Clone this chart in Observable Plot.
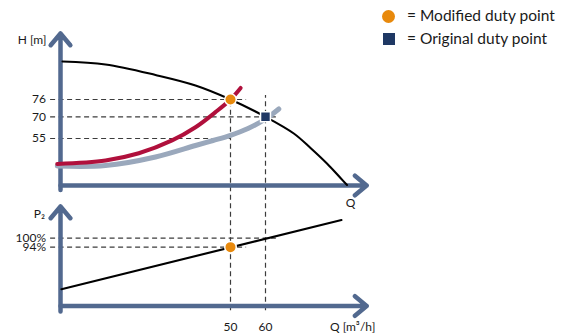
<!DOCTYPE html>
<html><head><meta charset="utf-8">
<script src="https://cdn.jsdelivr.net/npm/d3@7"></script>
<script src="https://cdn.jsdelivr.net/npm/@observablehq/plot@0.6"></script>
<style>
html,body{margin:0;padding:0;background:#fff;}
#chart{position:relative;width:566px;height:333px;font-family:Lato,"Open Sans",sans-serif;overflow:hidden;}
#chart svg{position:absolute;left:0;top:0;background:transparent !important;}
.lg-mark{position:absolute;}
.lg-text{position:absolute;left:407px;font-size:15.5px;line-height:18px;color:#1a1a1a;white-space:nowrap;}
</style></head>
<body><div id="chart"></div>
<script>
// ---------- data ----------
// Top panel: head H [m] against flow Q [m³/h]
const pumpQ = [2.0, 14.29, 28.57, 40, 50, 60, 68.09, 72.86, 77.63, 81.43, 83.29];
const pumpH = [89.18, 88.14, 84.50, 80.86, 76, 70, 58.46, 51.97, 46.93, 42.39, 40.16];
const modSysQ = [0.5, 14.3, 23.8, 33.3, 40, 45.7, 50, 52.9];
const modSysH = [46.9, 48.0, 50.3, 54.4, 62.8, 71.6, 76, 80.0];
const origSysQ = [0.5, 14.29, 28.57, 40, 45, 50, 55, 60, 63.8];
const origSysH = [46.22, 46.38, 49.10, 52.77, 54.36, 57.21, 61.91, 68.48, 72.71];
const hTicks = [76, 70, 55];
const hGuideEnds = [54.6, 63.1, 50];
// Bottom panel: power P2 [%] against flow Q
const powerQ = [1.7, 81.7];
const powerP = [65.8, 112.2];
const pTicks = [100, 94];
const pGuideEnds = [63.1, 54.6];
// Flow ticks and the H at which their dashed guides start
const qTicks = [50, 60];
const qGuideTops = [76, 77.4];
// Duty points
const modifiedPoint = {q: 50, h: 76, p: 94};
const originalPoint = {q: 60, h: 70, p: 100};
// Schematic axis extents
const qAxis = 1.43, qAxisEnd = 88.9, qGuideStart = -1.4;
const hAxis = 40, hAxisBottom = 38.56, hAxisTop = 98.9;
const pAxis = 54.5, pAxisBottom = 50.8, pAxisTop = 121.3;

// The H axis of the reference is schematic (not proportional): map H onto a
// display height before Plot's linear y scale.
const hDisplay = d3.scaleLinear().domain([40, 55, 70, 76, 100]).range([0, 47, 68.7, 86, 155.2]);

// ---------- styles ----------
const C = {axis: "#52698f", orange: "#e8890c", navy: "#1f3864", red: "#b0103c",
           gray: "#9aa8bc", guide: "#3c3c3c", ink: "#1a1a1a"};
const FONT = "Lato, 'Open Sans', sans-serif";
const dash = {stroke: C.guide, strokeWidth: 1.2, strokeDasharray: "5,3.5"};
const axisStyle = {stroke: C.axis, strokeWidth: 4.5, strokeLinecap: "round", strokeLinejoin: "round", headAngle: 80, headLength: 5.1};
const txt = {fontFamily: FONT, fontSize: 12, fill: C.ink};

const rows = (qs, vs, k) => qs.map((q, i) => ({q, [k]: vs[i]}));
const one = [0];

const xScale = {domain: [0, 100], range: [55, 405], axis: null};
const base = {width: 566, height: 333, marginTop: 0, marginRight: 0, marginBottom: 20, marginLeft: 0,
              style: {background: "transparent", fontFamily: FONT, overflow: "visible"}};

// ---------- top panel ----------
const topPlot = Plot.plot({
  ...base,
  x: xScale,
  y: {transform: hDisplay, domain: [0, 155.2], range: [185, 29.8], axis: null},
  marks: [
    Plot.ruleY(hTicks.map((h, i) => ({h, qEnd: hGuideEnds[i]})), {y: "h", x1: qGuideStart, x2: "qEnd", ...dash}),
    Plot.ruleX(qTicks.map((q, i) => ({q, h: qGuideTops[i]})), {x: "q", y1: "h", ...dash}),
    Plot.arrow(one, {x1: qAxis, x2: qAxis, y1: hAxisBottom, y2: hAxisTop, ...axisStyle}),
    Plot.arrow(one, {x1: qAxis, x2: qAxisEnd, y1: hAxis, y2: hAxis, ...axisStyle}),
    Plot.line(rows(origSysQ, origSysH, "h"), {x: "q", y: "h", curve: "catmull-rom", stroke: C.gray, strokeWidth: 5, strokeLinecap: "round"}),
    Plot.line(rows(modSysQ, modSysH, "h"), {x: "q", y: "h", curve: "catmull-rom", stroke: C.red, strokeWidth: 4, strokeLinecap: "round"}),
    Plot.line(rows(pumpQ, pumpH, "h"), {x: "q", y: "h", curve: "catmull-rom", stroke: "#000", strokeWidth: 2.1}),
    Plot.dot([originalPoint], {x: "q", y: "h", symbol: "square", r: 5.6, fill: C.navy, stroke: "white", strokeWidth: 1.5}),
    Plot.dot([modifiedPoint], {x: "q", y: "h", r: 5.75, fill: C.orange, stroke: "white", strokeWidth: 1.5}),
    Plot.text(hTicks, {x: qAxis, y: d => d, text: d => String(d), textAnchor: "end", dx: -14.5, ...txt}),
    Plot.text(["H [m]"], {x: qAxis, y: hAxisTop, text: d => d, textAnchor: "end", dx: -14, dy: 7, ...txt}),
    Plot.text(["Q"], {x: qAxisEnd, y: hAxis, text: d => d, dx: -16, dy: 18, ...txt})
  ]
});

// ---------- bottom panel ----------
const bottomPlot = Plot.plot({
  ...base,
  x: xScale,
  y: {domain: [54.5, 100], range: [305.5, 237.7], axis: null},
  marks: [
    Plot.ruleY(pTicks.map((p, i) => ({p, qEnd: pGuideEnds[i]})), {y: "p", x1: qGuideStart, x2: "qEnd", ...dash}),
    Plot.arrow(one, {x1: qAxis, x2: qAxis, y1: pAxisBottom, y2: pAxisTop, ...axisStyle}),
    Plot.arrow(one, {x1: qAxis, x2: qAxisEnd, y1: pAxis, y2: pAxis, ...axisStyle}),
    Plot.line(rows(powerQ, powerP, "p"), {x: "q", y: "p", stroke: "#000", strokeWidth: 2.1}),
    Plot.dot([modifiedPoint], {x: "q", y: "p", r: 5.75, fill: C.orange, stroke: "white", strokeWidth: 1.5}),
    Plot.text(pTicks, {x: qAxis, y: d => d, text: d => d + "%", textAnchor: "end", dx: -14.5, ...txt}),
    Plot.text(["P₂"], {x: qAxis, y: pAxisTop, text: d => d, textAnchor: "end", dx: -15.5, dy: 8, ...txt}),
    Plot.text(qTicks, {x: d => d, y: pAxis, text: d => String(d), dy: 21, ...txt}),
    Plot.text(["Q [m³/h]"], {x: qAxisEnd, y: pAxis, text: d => d, dx: -14, dy: 21, ...txt})
  ]
});

const chart = document.getElementById("chart");
chart.append(topPlot, bottomPlot);

// ---------- legend ----------
const legendItems = [
  {label: "= Modified duty point", shape: "circle", color: C.orange},
  {label: "= Original duty point", shape: "square", color: C.navy}
];
legendItems.forEach((d, i) => {
  const m = document.createElement("div");
  m.className = "lg-mark";
  const size = d.shape === "circle" ? 13 : 12;
  Object.assign(m.style, {left: (388.5 - size / 2) + "px", top: (16 + i * 22.6 - size / 2) + "px",
    width: size + "px", height: size + "px", background: d.color,
    borderRadius: d.shape === "circle" ? "50%" : "0"});
  const t = document.createElement("div");
  t.className = "lg-text";
  t.style.top = (5.9 + i * 22.6) + "px";
  t.textContent = d.label;
  chart.append(m, t);
});
</script>
</body></html>
